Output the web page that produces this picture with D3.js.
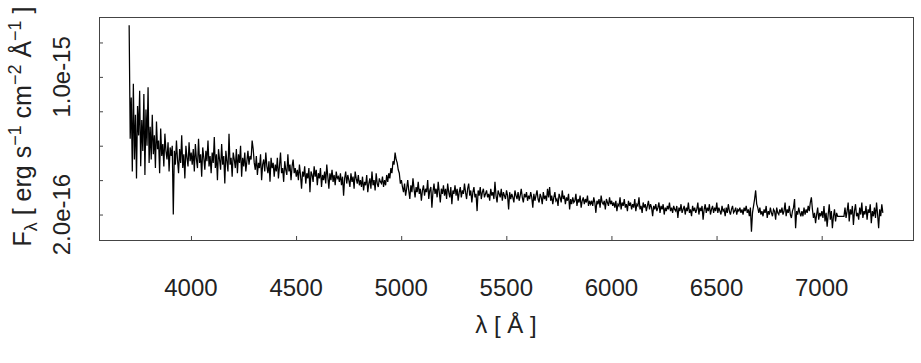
<!DOCTYPE html>
<html>
<head>
<meta charset="utf-8">
<script src="https://cdn.jsdelivr.net/npm/d3@7"></script>
<style>
  body { margin: 0; background: #fff; }
  text { font-family: "Liberation Sans", Arial, sans-serif; fill: #222; }
</style>
</head>
<body>
<script>
// spectrum: linear dispersion (start, step in Angstrom), flux in 1e-17 erg/s/cm2/A
const lambda0 = 3706;
const dLambda = 5;
const flux = [
  130, 64, 88, 45, 96, 52, 78, 41, 83, 66, 92, 48, 75, 57, 90, 43, 81, 60, 94, 50,
  71, 52, 78, 55, 66, 47, 74, 58, 63, 44, 70, 54, 61, 48, 67, 57, 52, 62, 45, 59,
  54, 60, 20, 57, 49, 63, 52, 44, 58, 50, 66, 47, 55, 41, 60, 53, 48, 62, 51, 56,
  49, 58, 45, 61, 52, 47, 64, 50, 55, 42, 59, 53, 46, 57, 51, 63, 48, 54, 44, 56,
  50, 65, 47, 55, 40, 58, 52, 46, 61, 49, 54, 38, 57, 51, 45, 67, 49, 53, 42, 56,
  52, 47, 58, 44, 55, 50, 60, 42, 53, 48, 56, 45, 51, 57, 49, 54, 52, 63, 58, 50,
  46, 54, 43, 50, 47, 55, 40, 49, 52, 45, 56, 48, 44, 51, 39, 53, 47, 50, 42, 49,
  45, 53, 41, 48, 56, 44, 47, 39, 51, 46, 43, 55, 45, 49, 40, 48, 52, 44, 47, 42,
  46, 40, 49, 43, 35, 45, 42, 48, 38, 44, 41, 47, 33, 45, 43, 39, 48, 42, 46, 37,
  44, 41, 47, 36, 43, 40, 45, 38, 49, 42, 35, 44, 40, 46, 39, 43, 37, 45, 41, 42,
  39, 44, 37, 42, 31, 41, 45, 38, 43, 40, 36, 44, 39, 42, 35, 45, 41, 38, 43, 37,
  40, 36, 42, 34, 39, 37, 43, 33, 38, 41, 35, 45, 37, 40, 34, 44, 38, 36, 41, 39,
  38, 42, 36, 40, 37, 43, 39, 44, 41, 47, 44, 51, 49, 56, 52, 50, 46, 44, 38, 40,
  36, 33, 38, 31, 35, 40, 34, 29, 37, 33, 41, 35, 30, 36, 33, 39, 32, 35, 28, 34,
  37, 31, 35, 33, 40, 29, 34, 36, 24, 33, 38, 32, 35, 30, 39, 33, 27, 35, 32, 37,
  31, 35, 29, 38, 33, 30, 36, 26, 34, 32, 37, 31, 35, 28, 33, 36, 30, 34, 32, 38,
  33, 29, 35, 38, 31, 34, 27, 33, 36, 30, 32, 22, 34, 31, 36, 29, 33, 35, 30, 32,
  34, 30, 32, 28, 35, 31, 33, 29, 39, 31, 27, 34, 32, 30, 35, 28, 33, 31, 29, 34,
  31, 23, 33, 29, 32, 30, 27, 34, 31, 29, 33, 28, 31, 35, 30, 27, 32, 30, 33, 28,
  31, 29, 33, 30, 24, 32, 28, 31, 34, 29, 27, 32, 30, 26, 33, 29, 31, 28, 35, 30,
  36, 28, 31, 26, 30, 33, 28, 29, 25, 32, 30, 27, 34, 29, 31, 26, 30, 28, 32, 23,
  29, 26, 30, 27, 28, 32, 25, 29, 27, 31, 24, 28, 30, 26, 29, 27, 31, 25, 28, 26,
  28, 25, 30, 27, 21, 28, 26, 29, 24, 31, 27, 26, 28, 23, 29, 27, 25, 30, 26, 28,
  25, 27, 24, 28, 22, 26, 25, 30, 23, 27, 25, 29, 24, 26, 22, 28, 25, 27, 23, 26,
  24, 29, 22, 26, 25, 30, 23, 25, 21, 27, 24, 26, 22, 25, 28, 23, 26, 24, 19, 25,
  23, 26, 22, 24, 27, 21, 25, 23, 26, 20, 24, 22, 25, 23, 27, 22, 24, 21, 25, 23,
  22, 25, 18, 24, 22, 26, 21, 23, 25, 20, 24, 22, 27, 21, 23, 19, 25, 22, 24, 21,
  23, 27, 20, 24, 22, 25, 17, 23, 26, 21, 24, 22, 26, 20, 23, 25, 21, 24, 22, 27,
  21, 24, 22, 20, 25, 22, 23, 19, 24, 21, 26, 22, 20, 23, 25, 21, 22, 24, 20, 23,
  22, 24, 21, 23, 20, 24, 22, 25, 21, 23, 19, 24, 10, 21, 25, 29, 34, 26, 24, 21,
  24, 20, 22, 19, 23, 21, 25, 18, 22, 20, 24, 21, 19, 23, 22, 17, 24, 21, 20, 23,
  21, 24, 20, 22, 27, 19, 23, 21, 25, 20, 18, 22, 24, 29, 12, 22, 20, 24, 21, 19,
  22, 19, 24, 20, 23, 21, 25, 22, 27, 30, 23, 18, 21, 15, 20, 24, 17, 21, 19, 22,
  18, 25, 16, 21, 13, 20, 26, 17, 22, 12, 19, 23, 16, 21, 19, 19, 19, 19, 19, 19,
  19, 24, 18, 22, 27, 16, 23, 20, 25, 14, 22, 26, 19, 21, 17, 24, 20, 27, 18, 22,
  20, 25, 17, 23, 21, 26, 15, 22, 19, 24, 18, 27, 20, 12, 23, 19, 26, 21
];
const xTicks = [4000, 4500, 5000, 5500, 6000, 6500, 7000];
const yTicks = [20, 40, 60, 80, 100, 120];
const yTickLabels = ["2.0e-16", "", "", "", "1.0e-15", ""];

const width = 921, height = 363;
const margin = {left: 99, top: 17, right: 8, bottom: 123};
const iw = width - margin.left - margin.right;
const ih = height - margin.top - margin.bottom;

const data = flux.map((f, i) => ({lam: lambda0 + i * dLambda, f: f}));

// R-style 4% padding of the data range
function padded(ext) {
  const d = (ext[1] - ext[0]) * 0.04;
  return [ext[0] - d, ext[1] + d];
}
const x = d3.scaleLinear().domain(padded(d3.extent(data, d => d.lam))).range([0, iw]);
const y = d3.scaleLinear().domain(padded(d3.extent(data, d => d.f))).range([ih, 0]);

const svg = d3.select("body").append("svg")
  .attr("width", width)
  .attr("height", height);
const g = svg.append("g")
  .attr("transform", "translate(" + margin.left + "," + margin.top + ")");

const line = d3.line().x(d => x(d.lam)).y(d => y(d.f));
g.append("path")
  .datum(data)
  .attr("fill", "none")
  .attr("stroke", "#000")
  .attr("stroke-width", 1.25)
  .attr("d", line);

// axes: inward ticks, no labels (labels drawn below)
const xAxis = g.append("g")
  .attr("transform", "translate(0," + ih + ")")
  .call(d3.axisBottom(x).tickValues(xTicks).tickSize(-4).tickFormat(""));
const yAxis = g.append("g")
  .call(d3.axisLeft(y).tickValues(yTicks).tickSize(-4).tickFormat(""));
[xAxis, yAxis].forEach(a => {
  a.select(".domain").remove();
  a.selectAll("line").attr("stroke", "#444");
});

g.append("rect")
  .attr("x", 0.5).attr("y", 0.5)
  .attr("width", iw).attr("height", ih)
  .attr("fill", "none")
  .attr("stroke", "#444");

g.selectAll(".xlab")
  .data(xTicks)
  .enter().append("text")
  .attr("class", "xlab")
  .attr("x", d => x(d))
  .attr("y", ih + 56)
  .attr("text-anchor", "middle")
  .style("font-size", "24px")
  .text(d => d);

g.selectAll(".ylab")
  .data(yTicks.filter((d, i) => yTickLabels[i] !== ""))
  .enter().append("text")
  .attr("class", "ylab")
  .attr("transform", d => "translate(-29," + y(d) + ") rotate(-90)")
  .attr("text-anchor", "middle")
  .style("font-size", "24px")
  .text(d => yTickLabels[yTicks.indexOf(d)]);

// x title
g.append("text")
  .attr("x", iw / 2)
  .attr("y", ih + 93)
  .attr("text-anchor", "middle")
  .style("font-size", "24px")
  .text("λ [ Å ]");

// y title with sub/superscripts
const yt = g.append("text")
  .attr("transform", "translate(-68," + (ih / 2 - 2) + ") rotate(-90)")
  .attr("text-anchor", "middle")
  .style("font-size", "25px");
const parts = [
  ["F", 0, 25], ["λ", 6, 18], [" [ erg s", -6, 25], ["−1", -10, 18],
  ["  cm", 10, 25], ["−2", -10, 18], [" Å", 10, 25], ["−1", -10, 18], [" ]", 10, 25]
];
parts.forEach(p => {
  yt.append("tspan").attr("dy", p[1]).style("font-size", p[2] + "px").text(p[0]);
});
</script>
</body>
</html>
